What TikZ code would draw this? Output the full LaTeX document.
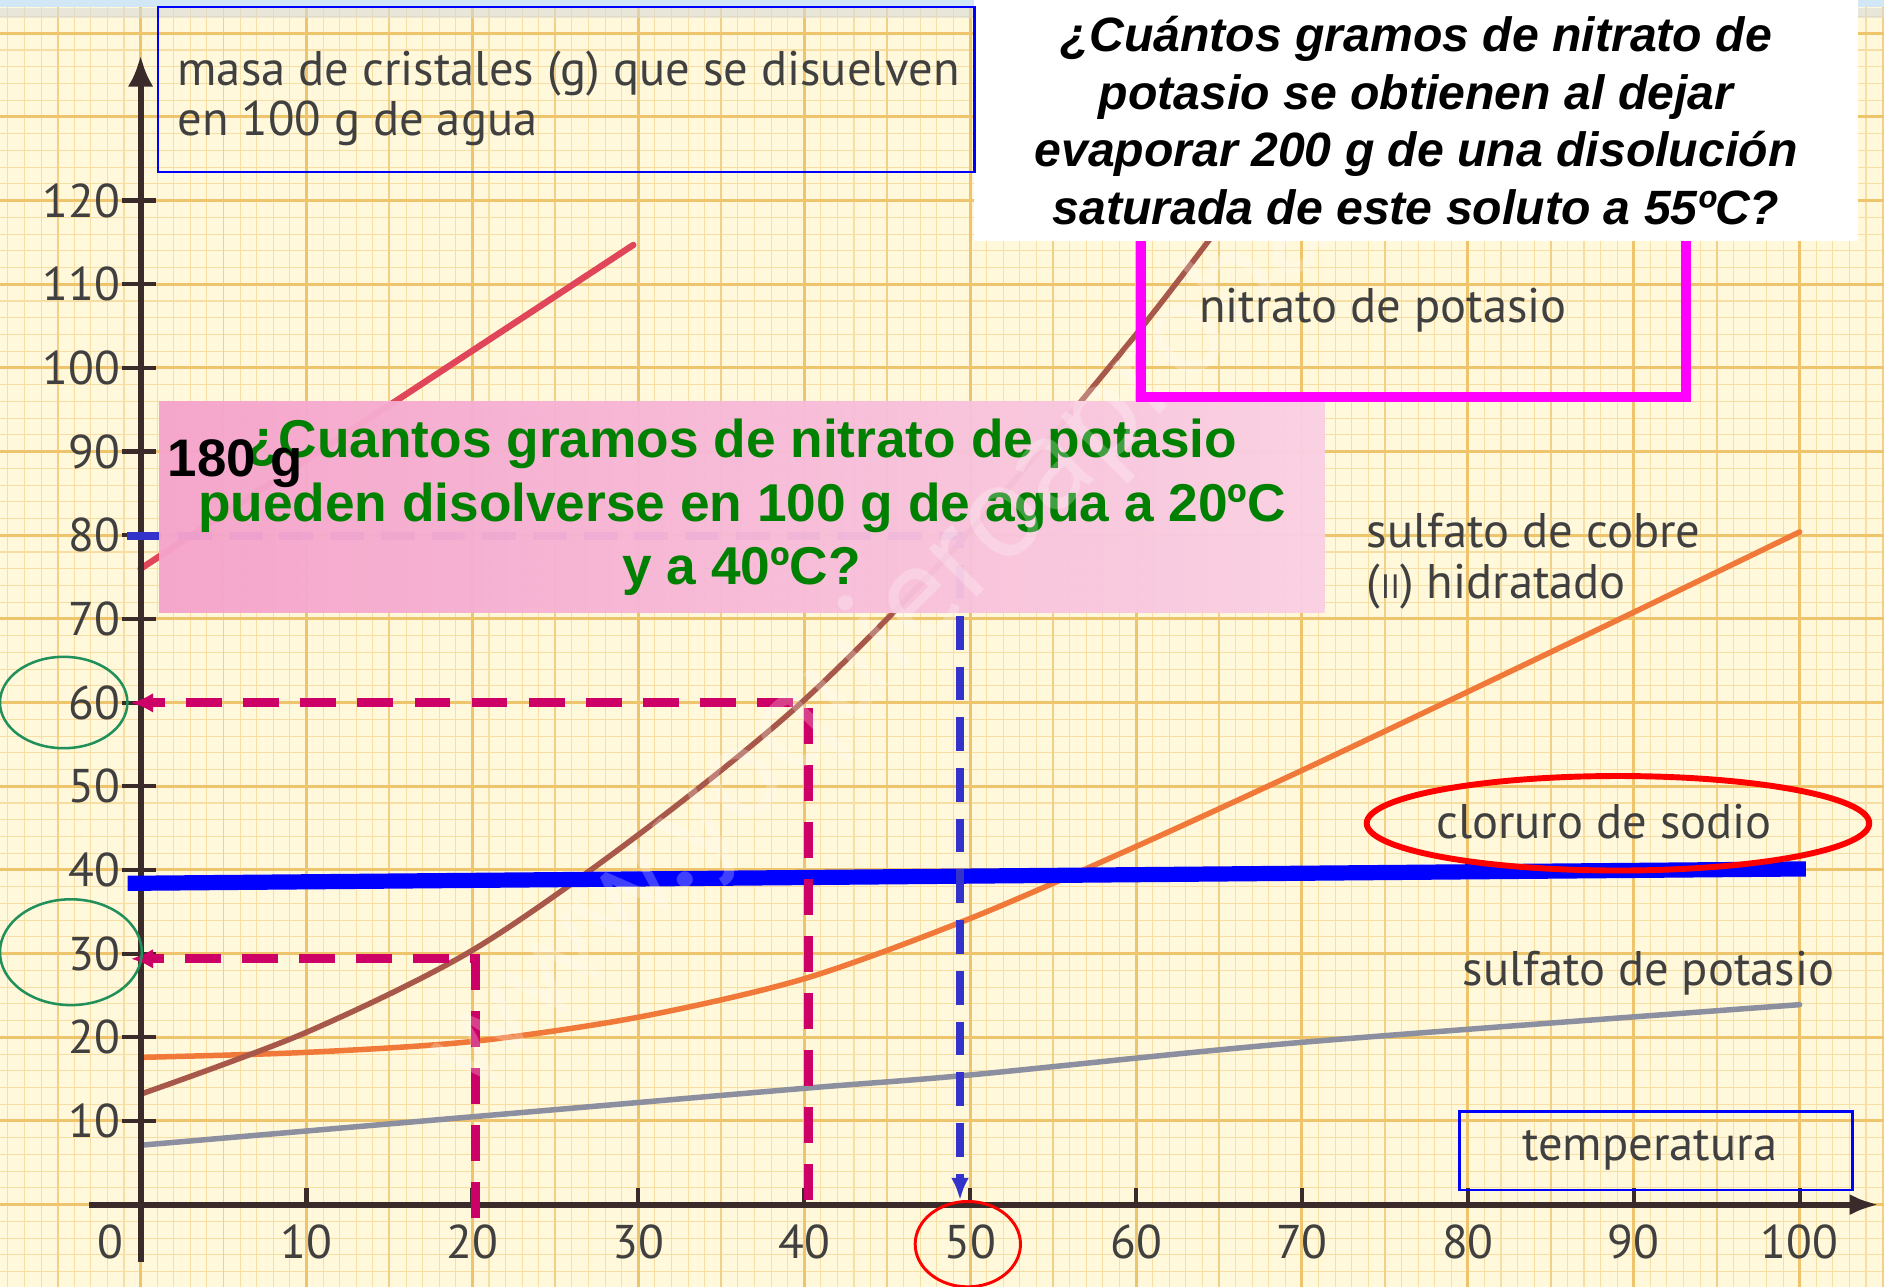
\documentclass[tikz,border=0pt]{standalone}
\usepackage{fontspec}
\setmainfont{Liberation Sans}
\newfontfamily\chartfont{PT Sans}
\usepackage{xcolor}
\usetikzlibrary{arrows.meta}
\definecolor{paper}{HTML}{FFF8DA}
\definecolor{gridminor}{HTML}{F6DEA4}
\definecolor{gridmid}{HTML}{F2D088}
\definecolor{gridmajor}{HTML}{EEC46C}
\definecolor{axiscol}{HTML}{3A2A2A}
\definecolor{labelgrey}{HTML}{404040}
\definecolor{nitk}{HTML}{A8584A}
\definecolor{nitna}{HTML}{E0455A}
\definecolor{cobre}{HTML}{F07838}
\definecolor{sulk}{HTML}{8C8FA0}
\definecolor{rasp}{HTML}{CC0066}
\definecolor{dblue}{HTML}{3333CC}
\definecolor{qgreen}{HTML}{008000}
\definecolor{ringgreen}{HTML}{22905A}
\definecolor{pinkA}{HTML}{F5A3CB}
\definecolor{pinkB}{HTML}{FAD0E4}
\definecolor{boxmag}{RGB}{255,0,255}
\definecolor{topblue}{HTML}{D2E7F6}
\tikzstyle{chartlabel}=[font=\chartfont\fontsize{11.5}{12}\selectfont,text=labelgrey,inner sep=0pt]
\tikzstyle{ticklabel}=[font=\chartfont\fontsize{11.2}{12}\selectfont,text=labelgrey,inner sep=0pt]
\tikzstyle{curve}=[line width=1.3pt,line cap=round]
\tikzstyle{readoff}=[rasp,line width=2.1pt,dash pattern=on 8.5pt off 5pt,-{Latex[length=5.3pt,width=4.7pt]}]
\tikzstyle{readblue}=[dblue,line width=1.85pt,dash pattern=on 8pt off 4pt,-{Latex[length=5.3pt,width=4.2pt]}]
\tikzstyle{question}=[font=\bfseries\fontsize{12.6}{15}\selectfont,text=qgreen,align=center,inner sep=0pt]
\tikzstyle{bigq}=[font=\bfseries\itshape\fontsize{11.4}{13.66}\selectfont,align=center,inner sep=0pt]
\tikzstyle{thinbox}=[draw=blue,line width=0.6pt]

\begin{document}
\begin{tikzpicture}[x=0.01cm,y=-0.01cm]

  \useasboundingbox (0,0) rectangle (1568,1071);
  \clip (0,0) rectangle (1568,1071);
  \fill[paper] (0,0) rectangle (1568,1071);

  % graph paper and curves, in degrees and grams
  \begin{scope}[shift={(117,1002.6)},x=0.138cm,y=0.0696cm]
    \foreach \t in {-9,...,106}
      \draw[gridminor,line width=0.25pt] (\t,-11) -- (\t,145);
    \foreach \g in {-10,-8,...,144}
      \draw[gridminor,line width=0.25pt] (-9,\g) -- (106,\g);
    \foreach \t in {-5,0,...,105}
      \draw[gridmid,line width=0.45pt] (\t,-11) -- (\t,145);
    \foreach \t in {0,10,...,100}
      \draw[gridmajor,line width=0.7pt] (\t,-11) -- (\t,145);
    \foreach \g in {-10,0,...,140}
      \draw[gridmajor,line width=0.7pt] (-9,\g) -- (106,\g);

    \draw[curve,sulk] plot[smooth] coordinates {(0,7.1) (20,10.5) (40,13.9) (50,15.5) (70,19.4) (100,23.9)};
    \draw[curve,cobre] plot[smooth] coordinates {(0,17.6) (10,18.2) (20,19.5) (30,22.4) (40,27) (50,34.2) (60,42.8) (70,51.9) (80,61.3) (90,70.8) (100,80.4)};
    \draw[curve,nitk] plot[smooth] coordinates {(0,13.2) (10,20.6) (20,30.4) (30,44.2) (40,60.3) (50,80.5) (60,104) (66,119.5)};
    \draw[curve,nitna,line width=1.5pt] (0,76) -- (29.7,114.7);

    \foreach \g in {10,20,...,120} {
      \draw[axiscol,line width=1pt] (-1.15,\g) -- (0.9,\g);
      \node[ticklabel,anchor=east] (y\g) at (-1.2,\g) {\g};
    }
    \foreach \t in {10,20,...,100} {
      \draw[axiscol,line width=1pt] (\t,0) -- (\t,2);
      \node[ticklabel] (x\t) at (\t,-4.5) {\t};
    }
    \node[ticklabel] (x0) at (-1.8,-4.5) {0};
  \end{scope}

  \fill[topblue] (0,0) rectangle (1568,5.5);
  \fill[gray!30,opacity=0.6] (0,7) rectangle (1568,15);

  \coordinate (yfoot) at (117,1050);
  \coordinate (ytop) at (117,46);
  \coordinate (xfoot) at (74,1002.6);
  \coordinate (xtip) at (1564,1002.6);
  \draw[axiscol,line width=1.4pt,-{Latex[length=7.4pt,width=6pt]}] (yfoot) -- (ytop);
  \draw[axiscol,line width=1.4pt,-{Latex[length=7pt,width=5pt]}] (xfoot) -- (xtip);

  \coordinate (naclL) at (106.2,735.2);
  \coordinate (naclR) at (1503,723.2);
  \draw[blue,line width=3.6pt] (naclL) -- (naclR);

  \coordinate (f20) at (395.4,1013.5);
  \coordinate (k20) at (395.4,798);
  \coordinate (a30) at (108.8,798);
  \coordinate (f40) at (673,999);
  \coordinate (k40) at (673,585);
  \coordinate (a60) at (108.8,585);
  \draw[readoff] (f20) -- (k20) -- (a30);
  \draw[readoff] (f40) -- (k40) -- (a60);

  \coordinate (b80) at (106,446);
  \coordinate (k50) at (799,446);
  \coordinate (f50) at (799,999);
  \draw[readblue] (b80) -- (k50) -- (f50);

  \node[question,left color=pinkA,right color=pinkB,fill opacity=0.96,text opacity=1,
        minimum width=9.693cm,minimum height=1.754cm] (q20) at (617.4,422.3)
       {¿Cuantos gramos de nitrato de potasio\\pueden disolverse en 100 g de agua a 20ºC\\y a 40ºC?};
  \node[font=\bfseries\fontsize{12.5}{15}\selectfont,anchor=base west,inner sep=0pt] (m180) at (139,397) {180 g};

  \node[font=\chartfont\fontsize{32}{32}\selectfont,text=white,opacity=0.25,rotate=45] (wm) at (790,480) {www.yoquieroaprobar.es};

  \draw[boxmag,line width=2.4pt] (949.3,190) rectangle (1402.9,330.7);
  \node[bigq,fill=white,minimum width=7.359cm,minimum height=2.008cm] (q55) at (1178.5,100.4)
       {¿Cuántos gramos de nitrato de\\potasio se obtienen al dejar\\evaporar 200 g de una disolución\\saturada de este soluto a 55ºC?};

  \draw[thinbox] (131.6,5.9) rectangle (811,143.2);
  \node[chartlabel,anchor=west,align=left,font=\chartfont\fontsize{11.5}{11.7}\selectfont] (ylab) at (147,82)
       {masa de cristales (g) que se disuelven\\en 100 g de agua};
  \node[chartlabel] (lnitk) at (1151,258) {nitrato de potasio};
  \node[chartlabel,anchor=west,align=left] (lcobre) at (1137,467)
       {sulfato de cobre\\({\fontsize{8}{8}\selectfont II}) hidratado};
  \node[chartlabel] (lnacl) at (1335,684) {cloruro de sodio};
  \node[chartlabel] (lsulk) at (1372,810) {sulfato de potasio};
  \draw[thinbox] (1214.6,925) rectangle (1541.8,990.5);
  \node[chartlabel] (ltemp) at (1373,957) {temperatura};

  \draw[red,line width=1.4pt] (1346.6,685.2) ellipse [x radius=2.09cm,y radius=0.393cm];
  \draw[red,line width=0.7pt] (805.5,1035.5) ellipse [x radius=0.438cm,y radius=0.355cm];
  \draw[ringgreen,line width=0.6pt] (53,584.7) ellipse [x radius=0.53cm,y radius=0.38cm];
  \draw[ringgreen,line width=0.6pt] (59,792.5) ellipse [x radius=0.59cm,y radius=0.44cm];

\end{tikzpicture}
\end{document}
